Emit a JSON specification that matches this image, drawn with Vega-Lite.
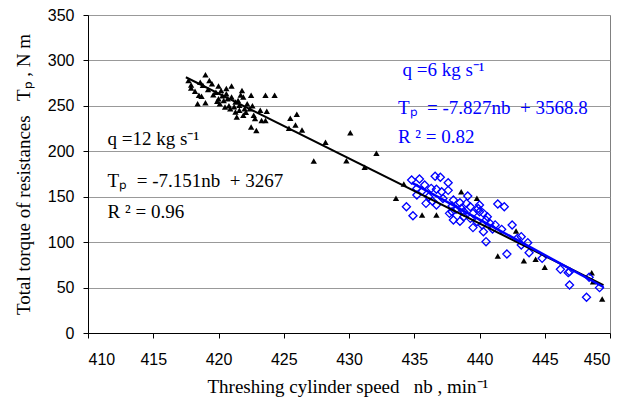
{
  "$schema": "https://vega.github.io/schema/vega-lite/v6.json",
  "width": 522,
  "height": 318,
  "autosize": {"type": "none"},
  "padding": {"left": 88, "top": 15, "right": 26, "bottom": 73},
  "background": "white",
  "config": {
    "view": {"stroke": "#808080", "strokeWidth": 1},
    "axis": {
      "domainColor": "black",
      "tickColor": "black",
      "tickSize": 5,
      "labelFont": "Liberation Sans",
      "labelFontSize": 16,
      "labelColor": "black",
      "titleFont": "Liberation Serif",
      "titleFontSize": 19,
      "titleFontWeight": "normal",
      "titleColor": "black"
    }
  },
  "datasets": {
    "black": [
      {"n": 417.7, "T": 278}, {"n": 417.9, "T": 273}, {"n": 417.9, "T": 269.6}, {"n": 418.6, "T": 276},
      {"n": 418.8, "T": 272.6}, {"n": 419.0, "T": 284.3}, {"n": 419.3, "T": 278}, {"n": 419.5, "T": 274.4},
      {"n": 420.0, "T": 271.8}, {"n": 418.5, "T": 261.6}, {"n": 418.7, "T": 260.5}, {"n": 418.4, "T": 252.4},
      {"n": 419.0, "T": 253.5}, {"n": 419.6, "T": 262.3}, {"n": 420.2, "T": 267}, {"n": 420.6, "T": 263.4},
      {"n": 421.0, "T": 271.8}, {"n": 421.8, "T": 267}, {"n": 420.0, "T": 257.9}, {"n": 420.4, "T": 256},
      {"n": 420.7, "T": 257.9}, {"n": 421.0, "T": 259.7}, {"n": 420.1, "T": 252.4}, {"n": 420.5, "T": 248.7},
      {"n": 420.9, "T": 246.9}, {"n": 421.3, "T": 254.2}, {"n": 421.5, "T": 256}, {"n": 421.9, "T": 259.7},
      {"n": 421.6, "T": 250.6}, {"n": 422.2, "T": 252.4}, {"n": 422.5, "T": 261.6}, {"n": 421.3, "T": 243.2},
      {"n": 421.6, "T": 245.1}, {"n": 422.0, "T": 246.9}, {"n": 422.4, "T": 246.9}, {"n": 421.4, "T": 237.8},
      {"n": 421.9, "T": 239.6}, {"n": 422.7, "T": 239.6}, {"n": 423.2, "T": 245.1}, {"n": 423.6, "T": 261.6},
      {"n": 424.3, "T": 261.6}, {"n": 423.3, "T": 234}, {"n": 423.6, "T": 234}, {"n": 423.7, "T": 244},
      {"n": 422.5, "T": 226.7}, {"n": 422.9, "T": 223}, {"n": 418.2, "T": 266}, {"n": 419.8, "T": 265},
      {"n": 420.8, "T": 250}, {"n": 422.8, "T": 236}, {"n": 419.2, "T": 268}, {"n": 420.3, "T": 261},
      {"n": 421.2, "T": 249}, {"n": 422.1, "T": 243}, {"n": 420.6, "T": 269}, {"n": 419.9, "T": 255},
      {"n": 421.7, "T": 262}, {"n": 422.6, "T": 250},
      {"n": 425.5, "T": 236.3}, {"n": 426.0, "T": 240.7}, {"n": 425.9, "T": 228.9}, {"n": 425.4, "T": 225.3},
      {"n": 426.4, "T": 223.4}, {"n": 428.2, "T": 209.9}, {"n": 430.1, "T": 220.5}, {"n": 427.3, "T": 189.3},
      {"n": 429.8, "T": 189.7}, {"n": 431.2, "T": 182.4}, {"n": 432.1, "T": 197.8}, {"n": 434.2, "T": 164},
      {"n": 433.6, "T": 148.3}, {"n": 438.6, "T": 155.5}, {"n": 439.8, "T": 148.2}, {"n": 435.6, "T": 129.9},
      {"n": 436.7, "T": 129.9}, {"n": 442.8, "T": 112.3}, {"n": 441.4, "T": 84.7}, {"n": 443.4, "T": 79.6},
      {"n": 444.3, "T": 81.1}, {"n": 445.0, "T": 72.3}, {"n": 448.6, "T": 66.4}, {"n": 448.7, "T": 56.5},
      {"n": 449.4, "T": 37.4}
    ],
    "blue": [
      {"n": 434.4, "T": 139}, {"n": 434.8, "T": 168.4}, {"n": 434.9, "T": 129.1}, {"n": 435.2, "T": 151.9},
      {"n": 435.2, "T": 159}, {"n": 435.4, "T": 169.5}, {"n": 435.6, "T": 156.3}, {"n": 435.8, "T": 162.9},
      {"n": 435.9, "T": 142.7}, {"n": 436.1, "T": 150}, {"n": 436.3, "T": 159.2}, {"n": 436.6, "T": 172.5},
      {"n": 436.7, "T": 140.9}, {"n": 436.7, "T": 158.2}, {"n": 437.0, "T": 171.4}, {"n": 437.1, "T": 155.5},
      {"n": 437.6, "T": 157}, {"n": 437.6, "T": 165.4}, {"n": 437.7, "T": 131.7}, {"n": 437.9, "T": 139.8},
      {"n": 437.9, "T": 133.5}, {"n": 438.0, "T": 146.4}, {"n": 438.0, "T": 124.4}, {"n": 438.2, "T": 136.1},
      {"n": 438.5, "T": 143.4}, {"n": 438.5, "T": 123}, {"n": 438.6, "T": 137.2}, {"n": 438.8, "T": 133.5},
      {"n": 439.0, "T": 142.7}, {"n": 439.1, "T": 150.8}, {"n": 439.3, "T": 139}, {"n": 439.3, "T": 126.2},
      {"n": 439.5, "T": 131.7}, {"n": 439.5, "T": 116}, {"n": 439.8, "T": 122.5}, {"n": 440.0, "T": 140.9},
      {"n": 440.0, "T": 133.5}, {"n": 440.2, "T": 118.9}, {"n": 440.3, "T": 131.7}, {"n": 440.3, "T": 111.5},
      {"n": 440.5, "T": 124.4}, {"n": 440.5, "T": 100.5}, {"n": 440.8, "T": 120.7}, {"n": 441.0, "T": 114.5},
      {"n": 441.4, "T": 142}, {"n": 441.7, "T": 114.1}, {"n": 441.9, "T": 139}, {"n": 442.5, "T": 118.9},
      {"n": 442.9, "T": 104.2}, {"n": 443.2, "T": 106}, {"n": 443.2, "T": 96.9}, {"n": 443.7, "T": 99.4},
      {"n": 442.1, "T": 86.9}, {"n": 443.8, "T": 88.4}, {"n": 444.8, "T": 82.2}, {"n": 446.2, "T": 70.1},
      {"n": 446.8, "T": 66.4}, {"n": 446.9, "T": 67.5}, {"n": 446.9, "T": 52.8}, {"n": 448.4, "T": 61.3},
      {"n": 448.2, "T": 39.3}, {"n": 449.2, "T": 49.9}, {"n": 437.2, "T": 148}, {"n": 438.8, "T": 128},
      {"n": 440.6, "T": 128}, {"n": 439.9, "T": 137}, {"n": 436.4, "T": 145}, {"n": 441.2, "T": 119}
    ],
    "fits": [
      {"fit": "q12", "n": 417.5, "T": 281.5},
      {"fit": "q12", "n": 449.5, "T": 52.6},
      {"fit": "q6", "n": 434.8, "T": 165.6},
      {"fit": "q6", "n": 449.5, "T": 50.6}
    ],
    "labels": [
      {"grp": "q12", "n": 411.5, "T": 213.5, "txt": "q =12 kg s⁻¹"},
      {"grp": "q12", "n": 411.5, "T": 167.3, "txt": "Tₚ\u00a0\u00a0= -7.151nb\u00a0\u00a0+ 3267"},
      {"grp": "q12", "n": 411.5, "T": 133.2, "txt": "R ² = 0.96"},
      {"grp": "q6", "n": 434.1, "T": 289.5, "txt": "q =6 kg s⁻¹"},
      {"grp": "q6", "n": 433.75, "T": 247.6, "txt": "Tₚ\u00a0\u00a0= -7.827nb\u00a0\u00a0+ 3568.8"},
      {"grp": "q6", "n": 433.75, "T": 215.7, "txt": "R ² = 0.82"}
    ]
  },
  "encoding": {
    "x": {
      "field": "n", "type": "quantitative",
      "scale": {"domain": [410, 450], "nice": false, "zero": false},
      "axis": {
        "values": [410, 415, 420, 425, 430, 435, 440, 445, 450],
        "grid": false,
        "labelPadding": 13,
        "title": "Threshing cylinder speed\u00a0\u00a0\u00a0nb\u00a0, min⁻¹",
        "titleX": 119,
        "titleY": 53,
        "titleBaseline": "middle",
        "titleAlign": "left",
        "titleAnchor": "start"
      }
    },
    "y": {
      "field": "T", "type": "quantitative",
      "scale": {"domain": [0, 350], "nice": false},
      "axis": {
        "values": [0, 50, 100, 150, 200, 250, 300, 350],
        "grid": true,
        "gridColor": "#999999",
        "gridWidth": 1,
        "labelPadding": 9,
        "title": "Total torque of resistances\u00a0\u00a0\u00a0Tₚ\u00a0, N m",
        "titlePadding": 14
      }
    }
  },
  "layer": [
    {
      "data": {"name": "black"},
      "mark": {"type": "point", "shape": "triangle-up", "filled": true, "color": "black", "size": 40, "opacity": 1}
    },
    {
      "data": {"name": "blue"},
      "mark": {"type": "point", "shape": "diamond", "filled": false, "color": "#0000ff", "strokeWidth": 1.3, "size": 65, "opacity": 1}
    },
    {
      "data": {"name": "fits"},
      "transform": [{"filter": "datum.fit === 'q12'"}],
      "mark": {"type": "line", "color": "black", "strokeWidth": 2}
    },
    {
      "data": {"name": "fits"},
      "transform": [{"filter": "datum.fit === 'q6'"}],
      "mark": {"type": "line", "color": "#0000ff", "strokeWidth": 2.5}
    },
    {
      "data": {"name": "labels"},
      "mark": {"type": "text", "align": "left", "baseline": "middle", "font": "Liberation Serif", "fontSize": 19},
      "encoding": {
        "text": {"field": "txt"},
        "color": {
          "field": "grp", "type": "nominal",
          "scale": {"domain": ["q12", "q6"], "range": ["black", "#0000ff"]},
          "legend": null
        }
      }
    }
  ]
}
